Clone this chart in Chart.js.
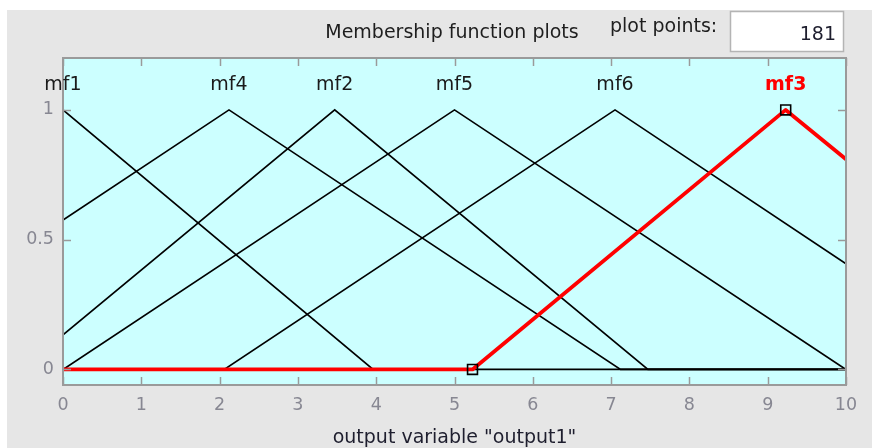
<!DOCTYPE html>
<html>
<head>
<meta charset="utf-8">
<script src="https://cdn.jsdelivr.net/npm/chart.js@4.4.1/dist/chart.umd.min.js"></script>
<style>
  html, body { margin: 0; padding: 0; background: #ffffff; }
  #wrap { position: relative; width: 872px; height: 448px; }
  canvas { display: block; }
</style>
</head>
<body>
<div id="wrap"><canvas id="c" width="872" height="448"></canvas></div>
<script>
// Membership functions of output variable "output1" (triangle vertices, clipped to [0, 10])
const mf1X = [0, 3.96, 10];
const mf1Y = [1, 0, 0];
const mf4X = [0, 2.12, 7.12, 10];
const mf4Y = [0.576, 1, 0, 0];
const mf2X = [0, 3.47, 7.47, 10];
const mf2Y = [0.133, 1, 0, 0];
const mf5X = [0, 5, 10];
const mf5Y = [0, 1, 0];
const mf6X = [0, 2.06, 7.05, 10];
const mf6Y = [0, 0, 1, 0.407];
const mf3X = [0, 5.23, 9.23, 10];
const mf3Y = [0, 0, 1, 0.81];

const mfNames = ['mf1', 'mf4', 'mf2', 'mf5', 'mf6', 'mf3'];
const selectedMf = 'mf3';

// Axis ticks
const xTicks = [0, 1, 2, 3, 4, 5, 6, 7, 8, 9, 10];
const yTicks = [0, 0.5, 1];
const yTickLabels = ['0', '0.5', '1'];

const plotPoints = '181';
const panelTitle = 'Membership function plots';
const plotPointsLabel = 'plot points:';
const axisTitle = 'output variable "output1"';

const FONT = '"DejaVu Sans", sans-serif';
const TICK_COLOR = '#878792';
const FRAME_COLOR = '#9a9a9a';

const seriesX = { mf1: mf1X, mf4: mf4X, mf2: mf2X, mf5: mf5X, mf6: mf6X, mf3: mf3X };
const seriesY = { mf1: mf1Y, mf4: mf4Y, mf2: mf2Y, mf5: mf5Y, mf6: mf6Y, mf3: mf3Y };

function points(name) {
  return seriesX[name].map((x, i) => ({ x: x, y: seriesY[name][i] }));
}

function peakX(name) {
  const ys = seriesY[name];
  let k = 0;
  ys.forEach((v, i) => { if (v > ys[k]) k = i; });
  return seriesX[name][k];
}

const datasets = [];
// selected function's handles: its left foot and peak vertex
const sel = points(selectedMf).filter(p => p.x > 0 && p.x < 10);
datasets.push({
  type: 'scatter', data: sel, showLine: false, order: 0,
  pointStyle: 'rect', pointRadius: 7, pointBorderWidth: 1.6,
  pointBorderColor: '#000000', pointBackgroundColor: 'rgba(0,0,0,0)'
});
datasets.push({
  type: 'line', data: points(selectedMf), order: 1,
  borderColor: '#ff0000', borderWidth: 3.8, pointRadius: 0, tension: 0,
  borderJoinStyle: 'round', borderCapStyle: 'round'
});
mfNames.filter(n => n !== selectedMf).forEach(n => {
  datasets.push({
    type: 'line', data: points(n), order: 2,
    borderColor: '#000000', borderWidth: 1.7, pointRadius: 0, tension: 0
  });
});

const decorPlugin = {
  id: 'decor',
  beforeDraw(chart) {
    const ctx = chart.ctx;
    const a = chart.chartArea;
    ctx.save();
    ctx.fillStyle = '#ffffff';
    ctx.fillRect(0, 0, chart.width, chart.height);
    ctx.fillStyle = '#e6e6e6';
    ctx.fillRect(7, 10, chart.width - 7, chart.height - 10);

    // header texts
    ctx.fillStyle = '#1e1e1e';
    ctx.font = '19px ' + FONT;
    ctx.textAlign = 'center';
    ctx.textBaseline = 'alphabetic';
    ctx.fillText(panelTitle, 452, 38);
    ctx.textAlign = 'left';
    ctx.fillText(plotPointsLabel, 610, 32);

    // plot points field
    ctx.fillStyle = '#ffffff';
    ctx.fillRect(730, 11, 114, 41);
    ctx.strokeStyle = '#b4b4b4';
    ctx.lineWidth = 1.5;
    ctx.strokeRect(730.5, 11.5, 113, 40);
    ctx.fillStyle = '#1e1e2e';
    ctx.textAlign = 'right';
    ctx.fillText(plotPoints, 836, 40);

    // axes background
    ctx.fillStyle = '#ccffff';
    ctx.fillRect(a.left, a.top, a.right - a.left, a.bottom - a.top);
    ctx.restore();
  },
  afterDatasetsDraw(chart) {
    const ctx = chart.ctx;
    const a = chart.chartArea;
    const xs = chart.scales.x, ys = chart.scales.y;
    ctx.save();
    // inward ticks on all four sides
    ctx.strokeStyle = FRAME_COLOR;
    ctx.lineWidth = 1.5;
    const tl = 8;
    ctx.beginPath();
    xTicks.forEach(v => {
      const px = Math.round(xs.getPixelForValue(v)) + 0.5;
      ctx.moveTo(px, a.bottom); ctx.lineTo(px, a.bottom - tl);
      ctx.moveTo(px, a.top); ctx.lineTo(px, a.top + tl);
    });
    yTicks.forEach(v => {
      const py = Math.round(ys.getPixelForValue(v)) + 0.5;
      ctx.moveTo(a.left, py); ctx.lineTo(a.left + tl, py);
      ctx.moveTo(a.right, py); ctx.lineTo(a.right - tl, py);
    });
    ctx.stroke();
    // frame
    ctx.lineWidth = 2;
    ctx.strokeRect(a.left, a.top, a.right - a.left, a.bottom - a.top);

    // function names above their peaks
    ctx.textAlign = 'center';
    ctx.textBaseline = 'alphabetic';
    mfNames.forEach(n => {
      const px = xs.getPixelForValue(peakX(n));
      if (n === selectedMf) {
        ctx.fillStyle = '#ff0000';
        ctx.font = 'bold 19px ' + FONT;
      } else {
        ctx.fillStyle = '#1a1a1a';
        ctx.font = '19px ' + FONT;
      }
      ctx.fillText(n, px, 90);
    });

    // axis title
    ctx.fillStyle = '#1e1e2e';
    ctx.font = '19px ' + FONT;
    ctx.fillText(axisTitle, (a.left + a.right) / 2, 443);
    ctx.restore();
  }
};

new Chart(document.getElementById('c'), {
  type: 'line',
  data: { datasets: datasets },
  options: {
    responsive: false,
    animation: false,
    devicePixelRatio: 1,
    layout: { padding: { top: 58, right: 26, left: 0, bottom: 0 } },
    plugins: { legend: { display: false }, tooltip: { enabled: false } },
    scales: {
      x: {
        type: 'linear', min: 0, max: 10,
        afterBuildTicks: s => { s.ticks = xTicks.map(v => ({ value: v })); },
        afterFit: s => { s.height = 63; },
        grid: { display: false, drawTicks: false },
        border: { display: false },
        ticks: {
          color: TICK_COLOR, padding: 10, maxRotation: 0, autoSkip: false,
          font: { family: FONT, size: 17.5 },
          callback: v => String(v)
        }
      },
      y: {
        type: 'linear', min: -0.06, max: 1.2,
        afterBuildTicks: s => { s.ticks = yTicks.map(v => ({ value: v })); },
        afterFit: s => { s.width = 63; },
        grid: { display: false, drawTicks: false },
        border: { display: false },
        ticks: {
          color: TICK_COLOR, padding: 9, autoSkip: false,
          font: { family: FONT, size: 17.5 },
          callback: v => yTickLabels[yTicks.indexOf(v)]
        }
      }
    }
  },
  plugins: [decorPlugin]
});
</script>
</body>
</html>
